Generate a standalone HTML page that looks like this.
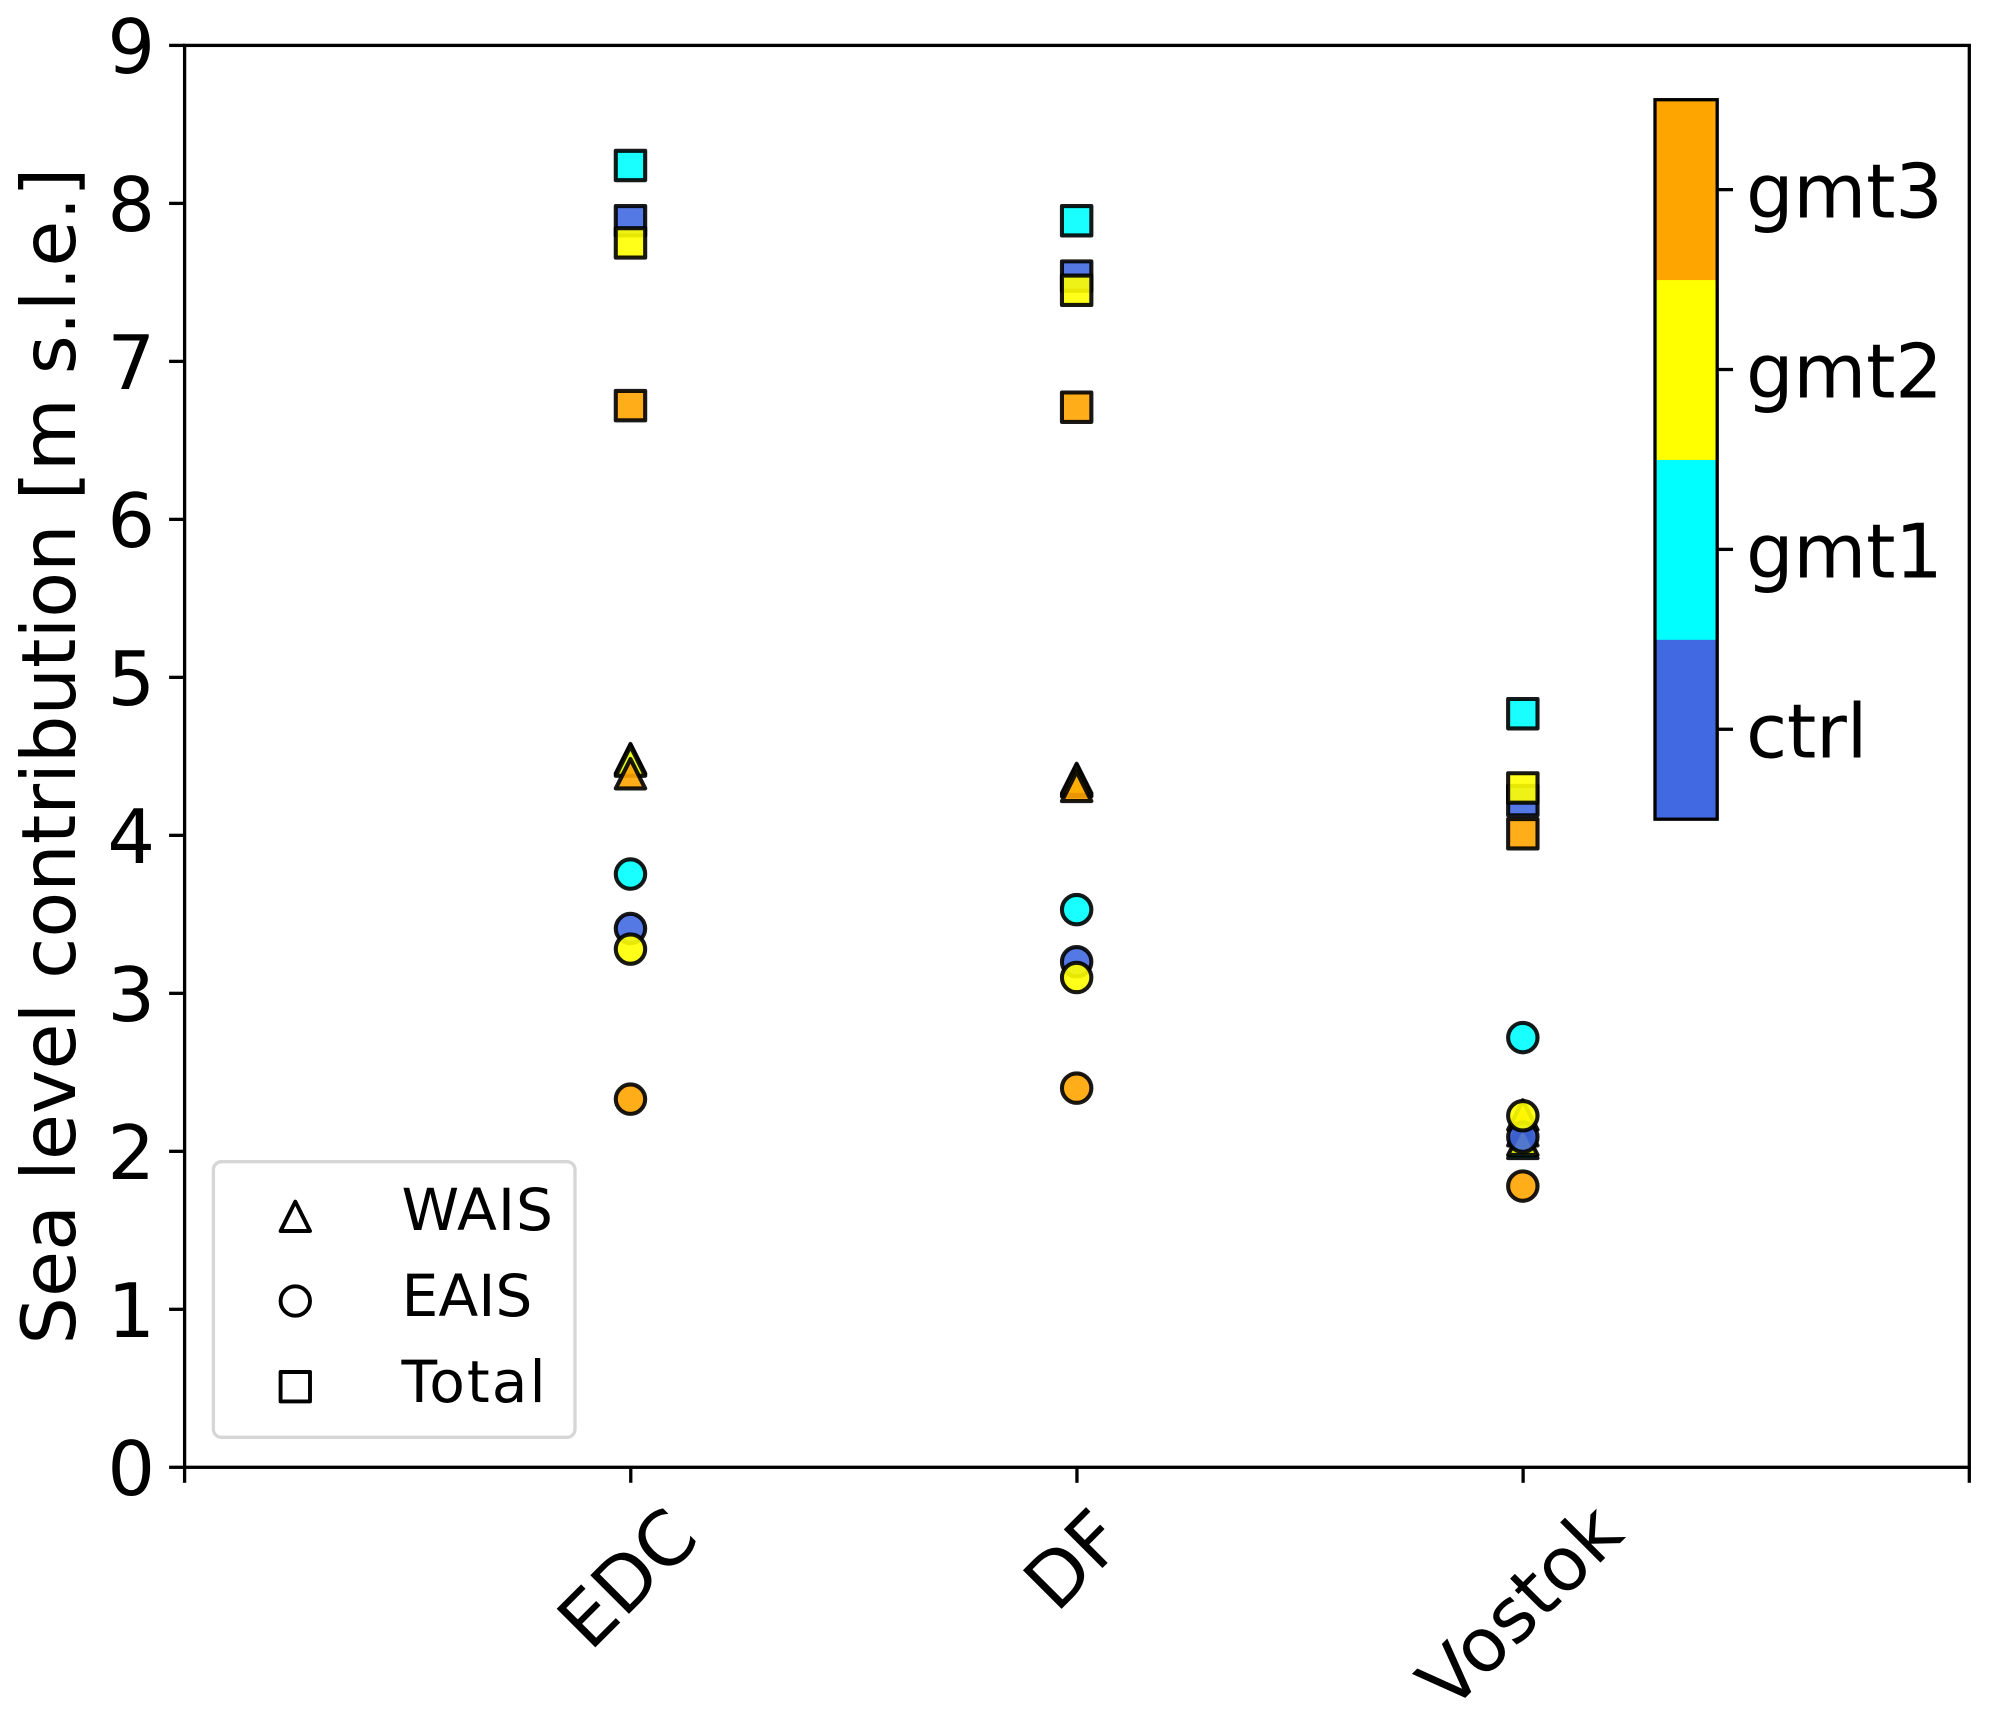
<!DOCTYPE html>
<html lang="en">
<head>
<meta charset="utf-8">
<title>Sea level contribution</title>
<style>
html,body{margin:0;padding:0;background:#fff;}
svg{display:block;}
text{font-family:"DejaVu Sans","Liberation Sans",sans-serif;fill:#000;}
</style>
</head>
<body>
<svg id="chart" xmlns="http://www.w3.org/2000/svg" width="1990" height="1721" viewBox="0 0 1990 1721">
<rect x="0" y="0" width="1990" height="1721" fill="#ffffff"/>
<g id="marks"></g>
<g id="yticks"></g>
<g id="xticks"></g>
<rect x="184.6" y="45.4" width="1784.7" height="1421.9" fill="none" stroke="#000" stroke-width="3.3"/>
<text transform="translate(75,756) rotate(-90)" text-anchor="middle" font-size="75">Sea level contribution [m s.l.e.]</text>
<g id="colorbar"></g>
<g>
  <rect x="213.4" y="1161.7" width="361.6" height="275.6" rx="8" ry="8" fill="#fff" fill-opacity="0.8" stroke="#d6d6d6" stroke-width="3.3"/>
  <g>
    <path d="M295.3 1201.6 L310 1231 L280.6 1231 Z" fill="none" stroke="#000" stroke-width="3.9" stroke-linejoin="round"/>
    <text x="401.5" y="1230" font-size="58.3" letter-spacing="1">WAIS</text>
  </g>
  <g>
    <circle cx="295.3" cy="1301" r="14.7" fill="none" stroke="#000" stroke-width="3.9"/>
    <text x="401.5" y="1316" font-size="58.3">EAIS</text>
  </g>
  <g>
    <rect x="280.6" y="1372" width="29.4" height="29.4" fill="none" stroke="#000" stroke-width="3.9" stroke-linejoin="round"/>
    <text x="401.5" y="1402" font-size="58.3" letter-spacing="2">Total</text>
  </g>
</g>
</svg>
<script>
const categories = ["EDC", "DF", "Vostok"];
const yTickLabels = [0, 1, 2, 3, 4, 5, 6, 7, 8, 9];
const experiments = ["ctrl", "gmt1", "gmt2", "gmt3"];
const experimentColors = ["#4169e1", "#00ffff", "#ffff00", "#ffa500"];

const waisCtrl = [4.48, 4.34, 2.13];
const waisGmt1 = [4.485, 4.36, 2.05];
const waisGmt2 = [4.47, 4.35, 2.07];
const waisGmt3 = [4.39, 4.31, 2.23];

const eaisCtrl = [3.41, 3.20, 2.09];
const eaisGmt1 = [3.755, 3.53, 2.72];
const eaisGmt2 = [3.28, 3.10, 2.225];
const eaisGmt3 = [2.33, 2.40, 1.78];

const totalCtrl = [7.89, 7.54, 4.22];
const totalGmt1 = [8.24, 7.89, 4.77];
const totalGmt2 = [7.75, 7.45, 4.30];
const totalGmt3 = [6.72, 6.71, 4.01];

const NS = "http://www.w3.org/2000/svg";
const plot = { left: 184.6, right: 1969.3, top: 45.4, bottom: 1467.3, yMax: 9, xMax: 4 };
function xScale(i) { return plot.left + (i + 1) / plot.xMax * (plot.right - plot.left); }
function yScale(v) { return plot.bottom - v / plot.yMax * (plot.bottom - plot.top); }

function make(tag, attrs) {
  const el = document.createElementNS(NS, tag);
  for (const k in attrs) el.setAttribute(k, attrs[k]);
  return el;
}

const HALF = 14.7;
const markStyle = { "fill-opacity": 0.9, "stroke": "#000", "stroke-opacity": 0.9, "stroke-width": 4.1, "stroke-linejoin": "round" };

function drawTriangle(parent, cx, cy, color, label) {
  const el = make("path", Object.assign({ d: "M" + cx + " " + (cy - HALF) + " L" + (cx + HALF) + " " + (cy + HALF) + " L" + (cx - HALF) + " " + (cy + HALF) + " Z", fill: color }, markStyle));
  
  
  parent.appendChild(el);
}
function drawCircle(parent, cx, cy, color, label) {
  const el = make("circle", Object.assign({ cx: cx, cy: cy, r: HALF, fill: color }, markStyle));
  
  
  parent.appendChild(el);
}
function drawSquare(parent, cx, cy, color, label) {
  const el = make("rect", Object.assign({ x: cx - HALF, y: cy - HALF, width: 2 * HALF, height: 2 * HALF, fill: color }, markStyle));
  
  
  parent.appendChild(el);
}

const marks = document.getElementById("marks");
const layers = [
  { name: "wais", draw: drawTriangle, series: [waisCtrl, waisGmt1, waisGmt2, waisGmt3] },
  { name: "eais", draw: drawCircle, series: [eaisCtrl, eaisGmt1, eaisGmt2, eaisGmt3] },
  { name: "total", draw: drawSquare, series: [totalCtrl, totalGmt1, totalGmt2, totalGmt3] }
];
layers.forEach(function (layer) {
  layer.series.forEach(function (values, s) {
    values.forEach(function (v, i) {
      const label = layer.name + "-" + experiments[s] + "-" + categories[i].toLowerCase();
      layer.draw(marks, xScale(i) - 0.3, yScale(v), experimentColors[s], label);
    });
  });
});

const yticks = document.getElementById("yticks");
yTickLabels.forEach(function (t) {
  const y = yScale(t);
  const tick = make("line", { x1: plot.left - 15.5, x2: plot.left, y1: y, y2: y, stroke: "#000", "stroke-width": 3.3 });
  
  
  yticks.appendChild(tick);
  const txt = make("text", { x: plot.left - 29.5, y: y + 27.5, "text-anchor": "end", "font-size": 75 });
  
  
  txt.textContent = t;
  yticks.appendChild(txt);
});

const xticks = document.getElementById("xticks");
for (let i = -1; i <= categories.length; i++) {
  const x = xScale(i);
  const tick = make("line", { x1: x, x2: x, y1: plot.bottom, y2: plot.bottom + 15.5, stroke: "#000", "stroke-width": 3.3 });
  
  
  xticks.appendChild(tick);
}
categories.forEach(function (c, i) {
  const cx = xScale(i) - 4;
  const cy = plot.bottom + (c === "EDC" ? 110.5 : c === "DF" ? 92 : 138.5);
  const txt = make("text", { transform: "translate(" + cx + "," + cy + ") rotate(-45)", x: 0, y: 27, "text-anchor": "middle", "font-size": 75 });
  
  
  txt.textContent = c;
  xticks.appendChild(txt);
});

const cb = document.getElementById("colorbar");
const cbar = { left: 1655, right: 1717.2, top: 99.7, bottom: 819.2 };
const segH = (cbar.bottom - cbar.top) / experiments.length;
experiments.forEach(function (name, i) {
  const top = cbar.bottom - (i + 1) * segH;
  const seg = make("rect", { x: cbar.left, y: top, width: cbar.right - cbar.left, height: segH + 0.5, fill: experimentColors[i] });
  
  
  cb.appendChild(seg);
  const ty = top + segH / 2;
  const tick = make("line", { x1: cbar.right, x2: 1733, y1: ty, y2: ty, stroke: "#000", "stroke-width": 3.3 });
  
  
  cb.appendChild(tick);
  const txt = make("text", { x: 1746, y: ty + 28, "font-size": 75, "letter-spacing": -0.3 });
  
  
  txt.textContent = name;
  cb.appendChild(txt);
});
const outline = make("rect", { x: cbar.left, y: cbar.top, width: cbar.right - cbar.left, height: cbar.bottom - cbar.top, fill: "none", stroke: "#000", "stroke-width": 3.3 });


cb.appendChild(outline);
</script>
</body>
</html>
